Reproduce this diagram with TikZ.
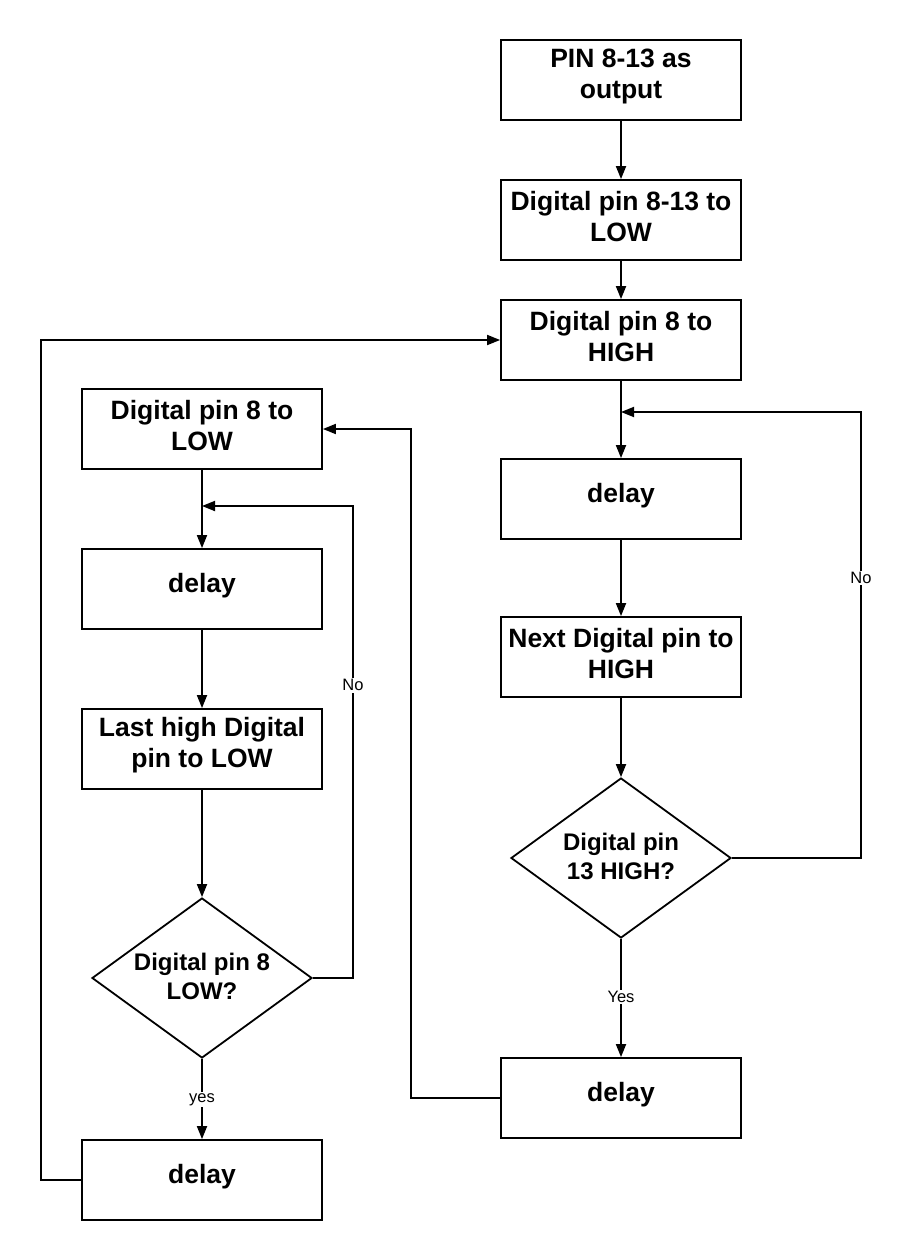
\documentclass[tikz,border=0pt]{standalone}
\usepackage{fontspec}
\setmainfont{Liberation Sans}
\usetikzlibrary{shapes.geometric,arrows.meta}
\begin{document}
\begin{tikzpicture}[x=1pt,y=-1pt,
  box/.style={draw,line width=1.8pt,minimum width=240pt,minimum height=80pt,inner sep=0pt},
  boxtext/.style={align=center,inner sep=0pt,yshift=3.5pt,font=\fontsize{26.5}{31}\selectfont\bfseries},
  dia/.style={draw,diamond,line width=1.8pt,shape aspect=1.375,minimum width=220pt,minimum height=160pt,inner sep=0pt},
  diatext/.style={align=center,inner sep=0pt,yshift=1.5pt,font=\fontsize{24}{29}\selectfont\bfseries},
  conn/.style={line width=1.8pt},
  arr/.style={conn,-{Triangle[length=13pt,width=10pt]}},
  lbl/.style={fill=white,inner sep=1.5pt,font=\fontsize{16.5}{19}\selectfont}]
\useasboundingbox (0,0) rectangle (912,1260);
% right column
\node[box] (r1) at (621,80) {};
\node[boxtext] at (r1) {PIN 8-13 as\\output};
\node[box] (r2) at (621,220) {};
\node[boxtext] at (r2) {Digital pin 8-13 to\\LOW};
\node[box] (r3) at (621,340) {};
\node[boxtext] at (r3) {Digital pin 8 to\\HIGH};
\node[box] (rd) at (621,499) {};
\node[boxtext] at (rd) {delay};
\node[box] (rn) at (621,657) {};
\node[boxtext] at (rn) {Next Digital pin to\\HIGH};
\node[dia] (rq) at (621,858) {};
\node[diatext] at (rq) {Digital pin\\13 HIGH?};
\node[box] (rd2) at (621,1098) {};
\node[boxtext] at (rd2) {delay};
% left column
\node[box] (l1) at (202,429) {};
\node[boxtext] at (l1) {Digital pin 8 to\\LOW};
\node[box] (ld) at (202,589) {};
\node[boxtext] at (ld) {delay};
\node[box] (ll) at (202,749) {};
\node[boxtext] at (ll) {Last high Digital\\pin to LOW};
\node[dia] (lq) at (202,978) {};
\node[diatext] at (lq) {Digital pin 8\\LOW?};
\node[box] (ld2) at (202,1180) {};
\node[boxtext] at (ld2) {delay};
% coordinates
\coordinate (rj) at (621,412);
\coordinate (rno) at (861,412);
\coordinate (k) at (411,429);
\coordinate (lj) at (202,506);
\coordinate (lno) at (353,506);
\coordinate (m) at (41,340);
% right connectors
\draw[arr] (r1) -- (r2);
\draw[arr] (r2) -- (r3);
\draw[arr] (r3) -- (rd);
\draw[arr] (rd) -- (rn);
\draw[arr] (rn) -- (rq);
\draw[arr] (rq.east) -| (rno) node[lbl,pos=0.814] {No} -- (rj);
\draw[arr] (rq.south) -- node[lbl,pos=0.49] {Yes} (rd2.north);
\draw[arr] (rd2.west) -| (k) -- (l1.east);
% left connectors
\draw[arr] (l1) -- (ld);
\draw[arr] (ld) -- (ll);
\draw[arr] (ll) -- (lq);
\draw[arr] (lq.east) -| (lno) node[lbl,pos=0.81] {No} -- (lj);
\draw[arr] (lq.south) -- node[lbl,pos=0.51] {yes} (ld2.north);
\draw[arr] (ld2.west) -| (m) -- (r3.west);
\end{tikzpicture}
\end{document}
